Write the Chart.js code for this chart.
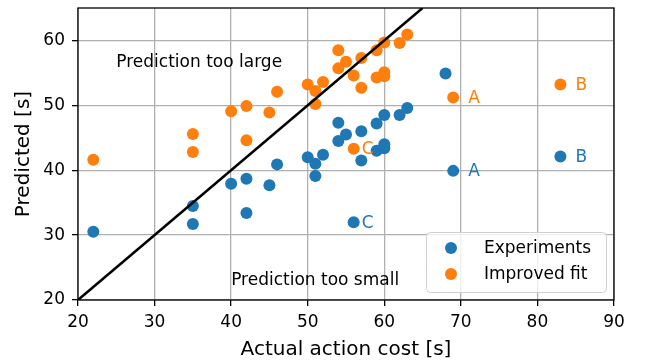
<!DOCTYPE html>
<html>
<head>
<meta charset="utf-8">
<script src="https://cdn.jsdelivr.net/npm/chart.js@4/dist/chart.umd.min.js"></script>
<style>
  html, body { margin: 0; padding: 0; background: #fff; }
  #wrap { width: 646px; height: 364px; }
</style>
</head>
<body>
<div id="wrap"><canvas id="grafico" width="646" height="364"></canvas></div>
<script>
// Datos
const actualExp = [22, 35, 35, 40, 42, 42, 45, 46, 50, 51, 51, 52, 54, 54, 55, 56, 57, 57, 59, 59, 60, 60, 60, 62, 63, 68, 69, 83];
const predictedExp = [30.5, 34.5, 31.7, 37.9, 38.7, 33.4, 37.7, 40.9, 42.0, 41.0, 39.1, 42.4, 47.3, 44.5, 45.5, 32.0, 46.0, 41.5, 43.0, 47.2, 44.0, 43.4, 48.5, 48.5, 49.6, 54.9, 39.9, 42.1];
const tagsExp = ['', '', '', '', '', '', '', '', '', '', '', '', '', '', '', 'C', '', '', '', '', '', '', '', '', '', '', 'A', 'B'];

const actualFit = [22, 35, 35, 40, 42, 42, 45, 46, 50, 51, 51, 52, 54, 54, 55, 56, 56, 57, 57, 59, 59, 60, 60, 60, 62, 63, 69, 83];
const predictedFit = [41.6, 45.6, 42.8, 49.1, 49.9, 44.6, 48.9, 52.1, 53.2, 52.2, 50.2, 53.6, 58.5, 55.7, 56.7, 54.6, 43.3, 57.3, 52.7, 58.5, 54.3, 59.7, 55.1, 54.5, 59.6, 60.9, 51.2, 53.2];
const tagsFit = ['', '', '', '', '', '', '', '', '', '', '', '', '', '', '', '', 'C', '', '', '', '', '', '', '', '', '', 'A', 'B'];

// Linea y = x
const diagonal = [20, 65];

const xTicks = [20, 30, 40, 50, 60, 70, 80, 90];
const yTicks = [20, 30, 40, 50, 60];

const notas = ['Prediction too large', 'Prediction too small'];
const notasX = [25, 40];
const notasY = [56.6, 23];

const azul = '#1f77b4';
const naranja = '#ff7f0e';
const fuente = '"DejaVu Sans", sans-serif';

function toPoints(xs, ys) {
    return xs.map((x, i) => ({x: x, y: ys[i]}));
}

// Marco, textos, etiquetas A/B/C y leyenda
const extras = {
    id: 'extras',
    afterDatasetsDraw(chart) {
        const ctx = chart.ctx;
        const area = chart.chartArea;
        const sx = chart.scales.x;
        const sy = chart.scales.y;

        ctx.save();
        ctx.font = '17px ' + fuente;
        ctx.textBaseline = 'middle';
        ctx.textAlign = 'left';
        ctx.fillStyle = '#000';
        notas.forEach((t, i) => {
            ctx.fillText(t, sx.getPixelForValue(notasX[i]), sy.getPixelForValue(notasY[i]));
        });

        const offsets = {A: 15, B: 15, C: 8};
        const dibujarTags = (xs, ys, tags, color) => {
            ctx.fillStyle = color;
            tags.forEach((t, i) => {
                if (!t) return;
                ctx.fillText(t, sx.getPixelForValue(xs[i]) + offsets[t], sy.getPixelForValue(ys[i]) + 1);
            });
        };
        dibujarTags(actualExp, predictedExp, tagsExp, azul);
        dibujarTags(actualFit, predictedFit, tagsFit, naranja);

        // marco
        ctx.strokeStyle = '#000';
        ctx.lineWidth = 1.3;
        ctx.strokeRect(area.left, area.top, area.right - area.left, area.bottom - area.top);

        // leyenda
        const w = 180, h = 60;
        const lx = area.right - 8 - w;
        const ly = area.bottom - 8 - h;
        ctx.beginPath();
        ctx.roundRect(lx + 0.5, ly + 0.5, w, h, 4);
        ctx.fillStyle = 'rgba(255,255,255,0.8)';
        ctx.fill();
        ctx.strokeStyle = '#d0d0d0';
        ctx.lineWidth = 1;
        ctx.stroke();

        const entradas = chart.data.datasets.filter(d => d.label);
        entradas.forEach((d, i) => {
            const cy = ly + 16 + i * 26;
            ctx.beginPath();
            ctx.arc(lx + 25, cy, 6, 0, Math.PI * 2);
            ctx.fillStyle = d.backgroundColor;
            ctx.fill();
            ctx.fillStyle = '#000';
            ctx.fillText(d.label, lx + 58, cy + 1);
        });
        ctx.restore();
    }
};

const ctx = document.getElementById('grafico').getContext('2d');
new Chart(ctx, {
    type: 'scatter',
    data: {
        datasets: [
            {
                data: toPoints(diagonal, diagonal),
                showLine: true,
                borderColor: '#000',
                borderWidth: 2.5,
                pointRadius: 0,
                order: 0
            },
            {
                label: 'Experiments',
                data: toPoints(actualExp, predictedExp),
                backgroundColor: azul,
                borderWidth: 0,
                pointRadius: 6,
                order: 2
            },
            {
                label: 'Improved fit',
                data: toPoints(actualFit, predictedFit),
                backgroundColor: naranja,
                borderWidth: 0,
                pointRadius: 6,
                order: 1
            }
        ]
    },
    options: {
        responsive: false,
        animation: false,
        devicePixelRatio: 1,
        layout: { padding: { top: 8, right: 32, left: 0, bottom: 0 } },
        plugins: {
            legend: { display: false },
            tooltip: { enabled: false }
        },
        scales: {
            x: {
                type: 'linear',
                min: 20,
                max: 90,
                afterBuildTicks: s => { s.ticks = xTicks.map(v => ({value: v})); },
                afterFit: s => { s.height = 64; s.paddingLeft = 0; s.paddingRight = 0; },
                ticks: { color: '#000', font: { family: fuente, size: 17 }, padding: 6, maxRotation: 0 },
                grid: { color: '#b0b0b0', lineWidth: 1.3, tickColor: '#000', tickLength: 6, tickWidth: 1.3 },
                border: { display: false },
                title: { display: true, text: 'Actual action cost [s]', color: '#000', font: { family: fuente, size: 20 }, padding: { top: 0, bottom: 2 } }
            },
            y: {
                type: 'linear',
                min: 20,
                max: 65,
                afterBuildTicks: s => { s.ticks = yTicks.map(v => ({value: v})); },
                afterFit: s => { s.width = 78; s.paddingTop = 0; s.paddingBottom = 0; },
                ticks: { color: '#000', font: { family: fuente, size: 17 }, padding: 7 },
                grid: { color: '#b0b0b0', lineWidth: 1.3, tickColor: '#000', tickLength: 6, tickWidth: 1.3 },
                border: { display: false },
                title: { display: true, text: 'Predicted [s]', color: '#000', font: { family: fuente, size: 20 }, padding: { top: 12, bottom: 0 } }
            }
        }
    },
    plugins: [extras]
});
</script>
</body>
</html>
